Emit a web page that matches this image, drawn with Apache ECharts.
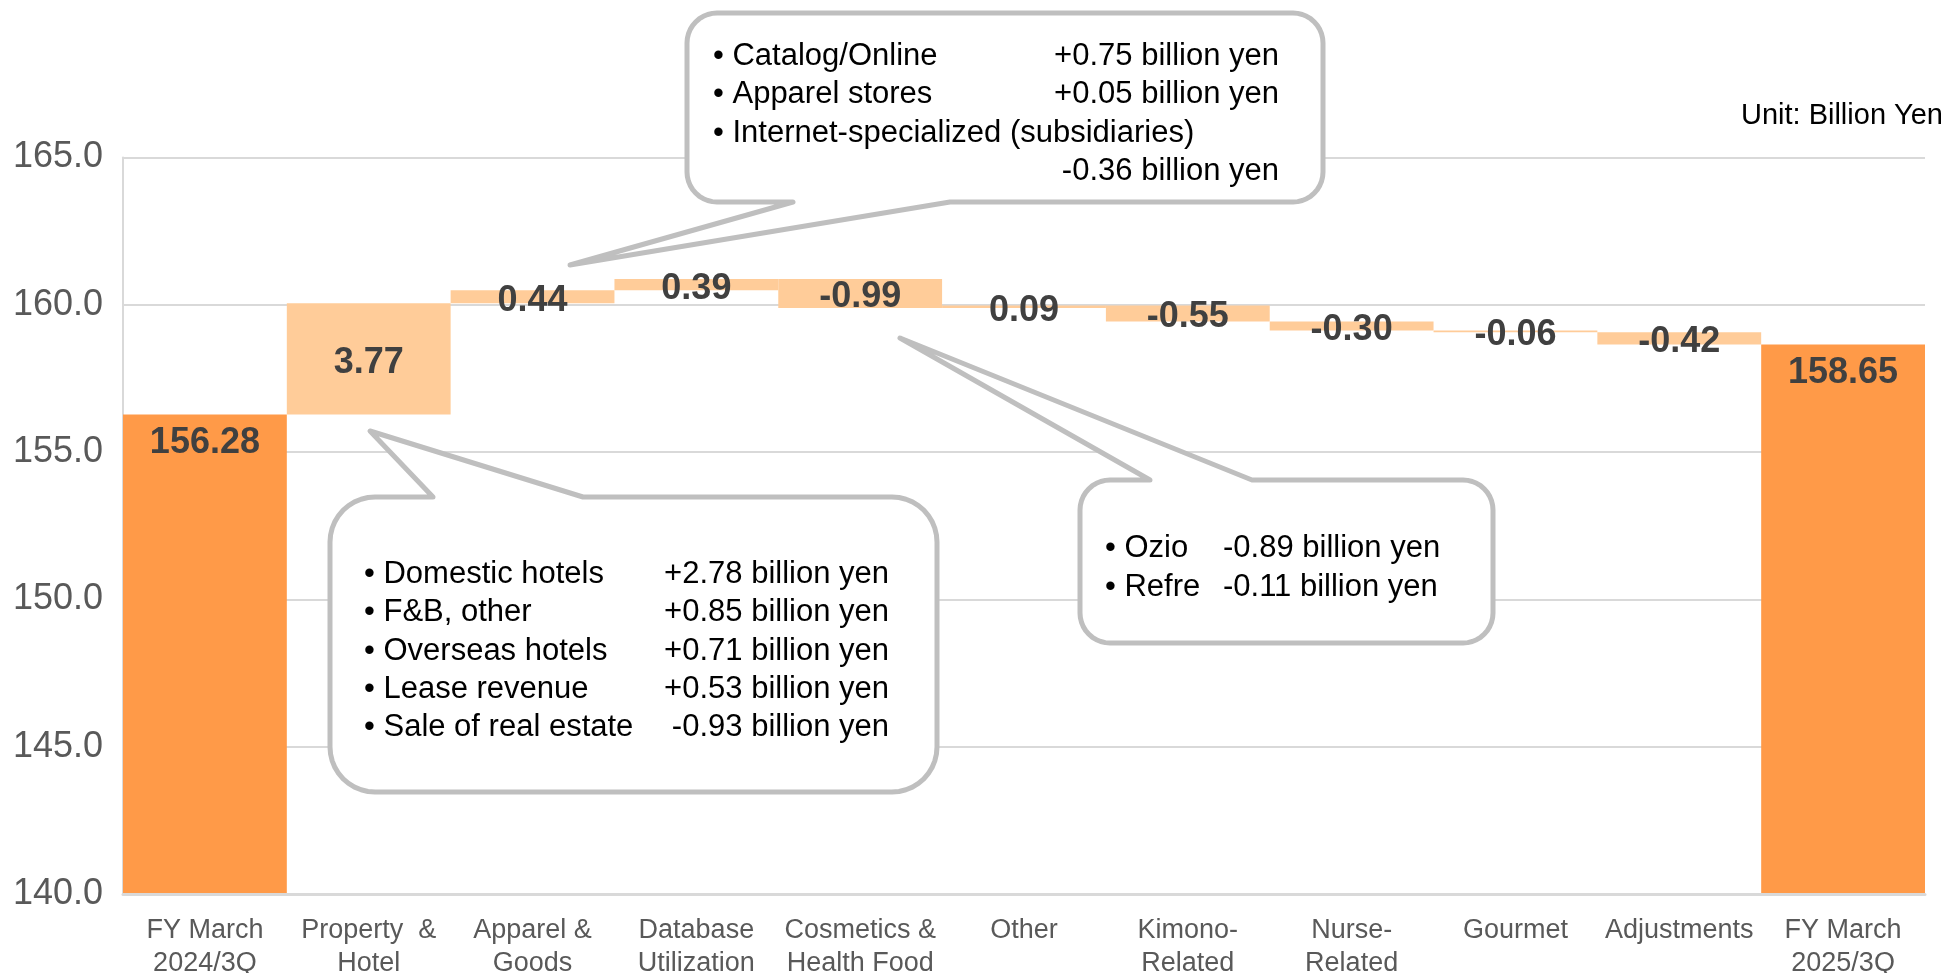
<!DOCTYPE html>
<html><head><meta charset="utf-8">
<script src="https://cdn.jsdelivr.net/npm/echarts@6/dist/echarts.min.js"></script>
<style>html,body{margin:0;padding:0;background:#fff;overflow:hidden}#c{width:1945px;height:973px}</style>
</head><body><div id="c"></div>
<script>
// ---- data ----
const categories = ['FY March\n2024/3Q','Property  &\nHotel','Apparel &\nGoods','Database\nUtilization','Cosmetics &\nHealth Food','Other','Kimono-\nRelated','Nurse-\nRelated','Gourmet','Adjustments','FY March\n2025/3Q'];
const startValue = 156.28;
const endValue = 158.65;
const deltas = [3.77, 0.44, 0.39, -0.99, 0.09, -0.55, -0.30, -0.06, -0.42];
const yMin = 140, yMax = 165, yStep = 5;
const unitText = 'Unit: Billion Yen';
const callout1Left = ['Catalog/Online', 'Apparel stores', 'Internet-specialized (subsidiaries)', ''];
const callout1Right = ['+0.75 billion yen', '+0.05 billion yen', '', '-0.36 billion yen'];
const callout2Left = ['Domestic hotels', 'F&B, other', 'Overseas hotels', 'Lease revenue', 'Sale of real estate'];
const callout2Right = ['+2.78 billion yen', '+0.85 billion yen', '+0.71 billion yen', '+0.53 billion yen', '-0.93 billion yen'];
const callout3Left = ['Ozio', 'Refre'];
const callout3Right = ['-0.89 billion yen', '-0.11 billion yen'];

// ---- derived series ----
const baseData = [], deltaData = [], totalData = [];
let running = startValue;
totalData.push(startValue); baseData.push('-'); deltaData.push('-');
deltas.forEach(d => {
  baseData.push(+(d >= 0 ? running : running + d).toFixed(2));
  deltaData.push(Math.abs(d));
  totalData.push('-');
  running += d;
});
totalData.push(endValue); baseData.push('-'); deltaData.push('-');

const FONT = '"Liberation Sans", Arial, sans-serif';
const GRAY = '#bfbfbf';

function calloutPoints(x0, y0, x1, y1, r, side, b1, b2, tip) {
  const pts = [];
  function arc(cx, cy, a0, a1) {
    const steps = 10;
    for (let i = 0; i <= steps; i++) {
      const a = (a0 + (a1 - a0) * i / steps) * Math.PI / 180;
      pts.push([cx + r * Math.cos(a), cy + r * Math.sin(a)]);
    }
  }
  arc(x0 + r, y0 + r, 180, 270);
  if (side === 'top') { pts.push([b1, y0], tip, [b2, y0]); }
  arc(x1 - r, y0 + r, 270, 360);
  arc(x1 - r, y1 - r, 0, 90);
  if (side === 'bottom') { pts.push([b2, y1], tip, [b1, y1]); }
  arc(x0 + r, y1 - r, 90, 180);
  return pts;
}

function textEl(text, x, y, align, size, color, weight) {
  return {
    type: 'text', x: x, y: y, z: 11,
    style: {
      text: text, fill: color || '#000',
      fontSize: size, fontFamily: FONT, fontWeight: weight || 'normal',
      align: align, textAlign: align,
      verticalAlign: 'middle', textVerticalAlign: 'middle'
    }
  };
}

const graphics = [];
function addCallout(box, leftLines, rightLines, leftX, rightX, rightAlign, centers, size) {
  graphics.push({
    type: 'polygon', z: 10,
    shape: { points: calloutPoints.apply(null, box) },
    style: { fill: '#fff', stroke: GRAY, lineWidth: 5, lineJoin: 'round' }
  });
  leftLines.forEach((t, i) => { if (t) graphics.push(textEl('\u2022 ' + t, leftX, centers[i], 'left', size)); });
  rightLines.forEach((t, i) => { if (t) graphics.push(textEl(t, rightX, centers[i], rightAlign, size)); });
}

addCallout([687, 13, 1323, 202, 30, 'bottom', 793, 950, [570, 265]],
  callout1Left, callout1Right, 713, 1279, 'right', [56, 94.5, 133, 171.5], 31);
addCallout([330, 497, 937, 792, 45, 'top', 433, 583, [370, 431]],
  callout2Left, callout2Right, 364, 889, 'right', [574, 612.5, 651, 689, 727], 31);
addCallout([1080, 480, 1493, 643, 30, 'top', 1150, 1252, [900, 338]],
  callout3Left, callout3Right, 1105, 1223, 'left', [548, 587.5], 31);
graphics.push(textEl(unitText, 1943, 115.5, 'right', 29, '#000'));

const chart = echarts.init(document.getElementById('c'), null, { renderer: 'canvas' });
const labelStyle = { fontFamily: FONT, fontWeight: 'bold', fontSize: 36, color: '#404040' };

chart.setOption({
  animation: false,
  backgroundColor: '#fff',
  grid: { left: 123, right: 20, top: 157.5, bottom: 79, containLabel: false, outerBoundsMode: 'none' },
  xAxis: {
    type: 'category', data: categories,
    axisLine: { show: true, lineStyle: { color: '#d9d9d9', width: 3 } },
    axisTick: { show: false },
    axisLabel: { interval: 0, margin: 20, fontFamily: FONT, fontSize: 27, lineHeight: 33, color: '#595959' },
    z: 5
  },
  yAxis: {
    type: 'value', min: yMin, max: yMax, interval: yStep,
    axisLine: { show: true, lineStyle: { color: '#d9d9d9', width: 2 } },
    axisTick: { show: false },
    splitLine: { show: true, lineStyle: { color: '#d9d9d9', width: 2 } },
    axisLabel: { margin: 20, fontFamily: FONT, fontSize: 36, color: '#595959', formatter: v => v.toFixed(1) }
  },
  series: [
    { name: 'base', type: 'bar', stack: 'w', data: baseData, barCategoryGap: '0%',
      itemStyle: { color: 'rgba(0,0,0,0)' }, emphasis: { disabled: true }, silent: true },
    { name: 'delta', type: 'bar', stack: 'w', data: deltaData, barCategoryGap: '0%',
      itemStyle: { color: '#FFCC99' },
      label: Object.assign({ show: true, position: 'inside', offset: [0, 4],
        formatter: p => deltas[p.dataIndex - 1].toFixed(2) }, labelStyle) },
    { name: 'total', type: 'bar', stack: 'w', data: totalData, barCategoryGap: '0%',
      itemStyle: { color: '#FF9A48' },
      label: Object.assign({ show: true, position: 'insideTop', distance: 11,
        formatter: p => p.value.toFixed(2) }, labelStyle) }
  ],
  graphic: graphics
});
</script>
</body></html>
